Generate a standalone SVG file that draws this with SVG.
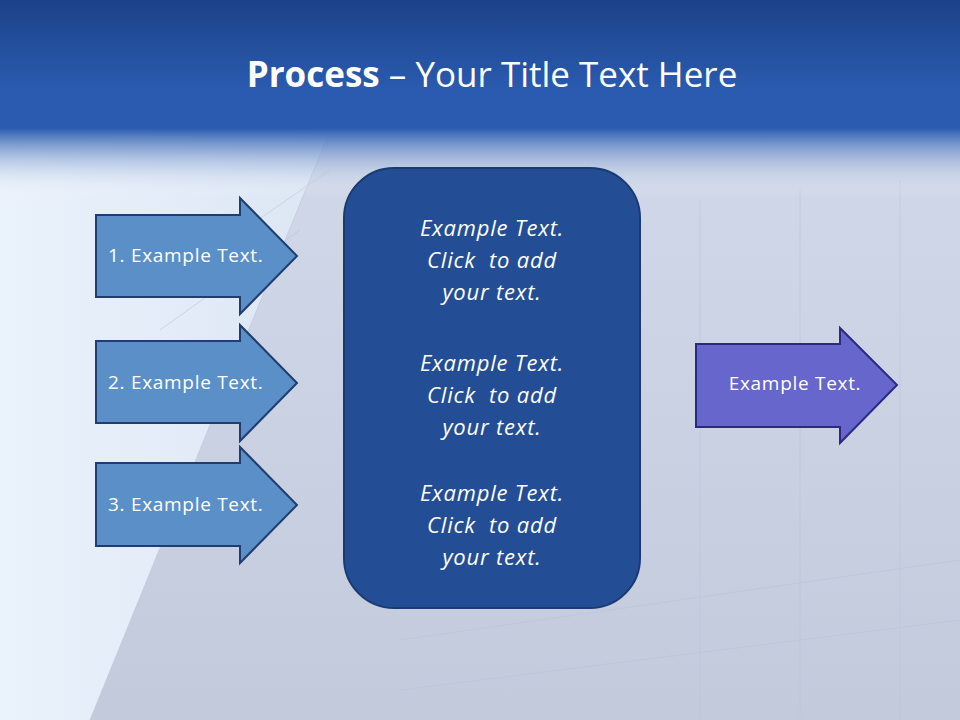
<svg xmlns="http://www.w3.org/2000/svg" width="960" height="720" viewBox="0 0 960 720">
<defs>
<linearGradient id="bg" x1="0" y1="0" x2="0" y2="1">
<stop offset="0" stop-color="#d4dcec"/><stop offset="1" stop-color="#c2cadc"/>
</linearGradient>
<linearGradient id="top" x1="0" y1="0" x2="0" y2="1">
<stop offset="0" stop-color="#1c4288"/><stop offset="0.7" stop-color="#2a5bb0"/><stop offset="1" stop-color="#2a5bb0"/>
</linearGradient>
<linearGradient id="fade" x1="0" y1="0" x2="0" y2="1">
<stop offset="0" stop-color="#2a5bb0"/><stop offset="1" stop-color="#ffffff" stop-opacity="0"/>
</linearGradient>
<linearGradient id="left" x1="0" y1="0" x2="1" y2="0">
<stop offset="0" stop-color="#eaf2fb"/><stop offset="1" stop-color="#dce6f4"/>
</linearGradient>
<style>
.la{fill:#5b8fc8;stroke:#1f3d6e;stroke-width:2}
.lt{font-family:"Open Sans","Liberation Sans",sans-serif;font-size:19px;letter-spacing:0.7px;fill:#fff}
.ct{font-family:"Open Sans","Liberation Sans",sans-serif;font-size:22px;letter-spacing:0.8px;font-style:italic;fill:#fff;text-anchor:middle}
.gl{stroke:#bcc6d8;stroke-width:1;fill:none;opacity:0.6}
</style>
</defs>
<rect width="960" height="720" fill="url(#bg)"/>
<polygon points="0,130 330,130 90,720 0,720" fill="url(#left)"/>
<g class="gl">
<line x1="330" y1="130" x2="90" y2="720"/>
<line x1="200" y1="260" x2="330" y2="170"/>
<line x1="160" y1="330" x2="300" y2="230"/>
<line x1="400" y1="640" x2="960" y2="560"/>
<line x1="400" y1="690" x2="960" y2="620"/>
<line x1="700" y1="200" x2="700" y2="720"/>
<line x1="800" y1="190" x2="800" y2="720"/>
<line x1="900" y1="180" x2="900" y2="720"/>
</g>
<rect width="960" height="128" fill="url(#top)"/>
<rect y="128" width="960" height="70" fill="url(#fade)"/>
<text x="492" y="87" text-anchor="middle" font-family="'Open Sans','Liberation Sans',sans-serif" font-size="35" fill="#fff"><tspan font-weight="bold">Process</tspan> – Your Title Text Here</text>
<g id="arrow1"><polygon class="la" points="96,215 240,215 240,198 297,256 240,314 240,297 96,297"/><text class="lt" x="108" y="262">1. Example Text.</text></g>
<g id="arrow2"><polygon class="la" points="96,341 240,341 240,325 297,383 240,441 240,423 96,423"/><text class="lt" x="108" y="389">2. Example Text.</text></g>
<g id="arrow3"><polygon class="la" points="96,463 240,463 240,447 297,505 240,563 240,546 96,546"/><text class="lt" x="108" y="511">3. Example Text.</text></g>
<g id="center"><rect x="344" y="168" width="296" height="440" rx="50" fill="#234e96" stroke="#1a3a70" stroke-width="2"/>
<text class="ct"><tspan x="492" y="236">Example Text.</tspan><tspan x="492" y="268">Click &#160;to add</tspan><tspan x="492" y="300">your text.</tspan></text>
<text class="ct"><tspan x="492" y="371">Example Text.</tspan><tspan x="492" y="403">Click &#160;to add</tspan><tspan x="492" y="435">your text.</tspan></text>
<text class="ct"><tspan x="492" y="501">Example Text.</tspan><tspan x="492" y="533">Click &#160;to add</tspan><tspan x="492" y="565">your text.</tspan></text>
</g>
<g id="arrowOut"><polygon points="696,344 840,344 840,328 897,385 840,443 840,427 696,427" fill="#6666cc" stroke="#2a2a80" stroke-width="2"/><text class="lt" x="795" y="390" text-anchor="middle">Example Text.</text></g>
<g id="connectors"/>
</svg>
